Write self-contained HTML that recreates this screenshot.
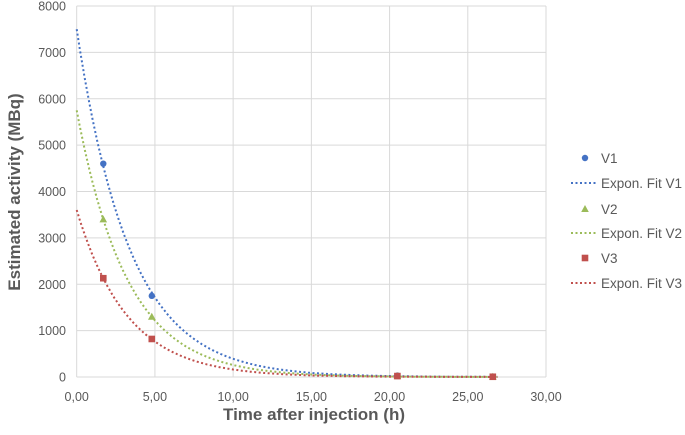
<!DOCTYPE html>
<html><head><meta charset="utf-8"><style>
body{margin:0;background:#fff;}
svg text{font-family:"Liberation Sans",sans-serif;fill:#595959;}
</style></head><body>
<svg id="chart" width="685" height="430" xmlns="http://www.w3.org/2000/svg">
<g id="grid"></g><g id="fits"></g><g id="pts"></g><g id="ticks"></g>
<text x="314" y="420" text-anchor="middle" font-size="17" font-weight="bold">Time after injection (h)</text>
<text transform="translate(20,192) rotate(-90)" text-anchor="middle" font-size="17" font-weight="bold">Estimated activity (MBq)</text>
<g id="legend"></g>
</svg>
<script>
const times=[1.7,4.8,20.5,26.6];
const v1=[4600,1750,30,10];
const v2=[3400,1300,20,5];
const v3=[2130,820,20,5];
const fitA0=[7500,5750,3600];
const fitK=[0.295,0.31,0.31];
const seriesNames=["V1","V2","V3"];
const colors=["#4472c4","#9bbb59","#c0504d"];
const xTicks=[0,5,10,15,20,25,30];
const yTicks=[0,1000,2000,3000,4000,5000,6000,7000,8000];
const X0=76.7,X1=546,Y0=377,Y1=6;
const sx=v=>X0+v/30*(X1-X0), sy=v=>Y0-v/8000*(Y0-Y1);
const NS="http://www.w3.org/2000/svg";
function mk(p,t,a){const e=document.createElementNS(NS,t);for(const k in a)e.setAttribute(k,a[k]);document.getElementById(p).appendChild(e);return e;}
xTicks.forEach(t=>{const l=mk('grid','line',{x1:sx(t),x2:sx(t),y1:Y1,y2:Y0,stroke:'#d9d9d9'});


const tx=mk('ticks','text',{x:sx(t),y:401,'text-anchor':'middle','font-size':'12.5'});tx.textContent=t.toFixed(2).replace('.',',');

});
yTicks.forEach(t=>{const l=mk('grid','line',{x1:X0,x2:X1,y1:sy(t),y2:sy(t),stroke:'#d9d9d9'});


const tx=mk('ticks','text',{x:66,y:sy(t)+4.5,'text-anchor':'end','font-size':'12.5'});tx.textContent=t;

});
const data=[v1,v2,v3];
fitA0.forEach((a,i)=>{let d='';for(let t=0;t<=27;t+=0.1){const y=a*Math.exp(-fitK[i]*t);d+=(d?'L':'M')+sx(t).toFixed(1)+','+sy(y).toFixed(1);}
const p=mk('fits','path',{d:d,fill:'none',stroke:colors[i],'stroke-width':2,'stroke-dasharray':'2,2.5'});

});
function marker(g,i,x,y){let e;
if(i==0)e=mk(g,'circle',{cx:x,cy:y,r:3.2,fill:colors[0]});
else if(i==1)e=mk(g,'polygon',{points:`${x},${y-4} ${x+3.8},${y+3} ${x-3.8},${y+3}`,fill:colors[1]});
else e=mk(g,'rect',{x:x-3.3,y:y-3.3,width:6.6,height:6.6,fill:colors[2]});return e;}
data.forEach((s,i)=>s.forEach((v,j)=>{const e=marker('pts',i,sx(times[j]),sy(v));

}));
const ly=[158,183,209,233,258,283];
seriesNames.forEach((n,i)=>{const m=marker('legend',i,585,ly[2*i]);


const t1=mk('legend','text',{x:601,y:ly[2*i]+5,'font-size':'13.5'});t1.textContent=n;


const l=mk('legend','line',{x1:571,x2:596,y1:ly[2*i+1],y2:ly[2*i+1],stroke:colors[i],'stroke-width':2,'stroke-dasharray':'2,2.5'});


const t2=mk('legend','text',{x:601,y:ly[2*i+1]+5,'font-size':'13.5'});t2.textContent='Expon. Fit '+n;

});
</script>
</body></html>
